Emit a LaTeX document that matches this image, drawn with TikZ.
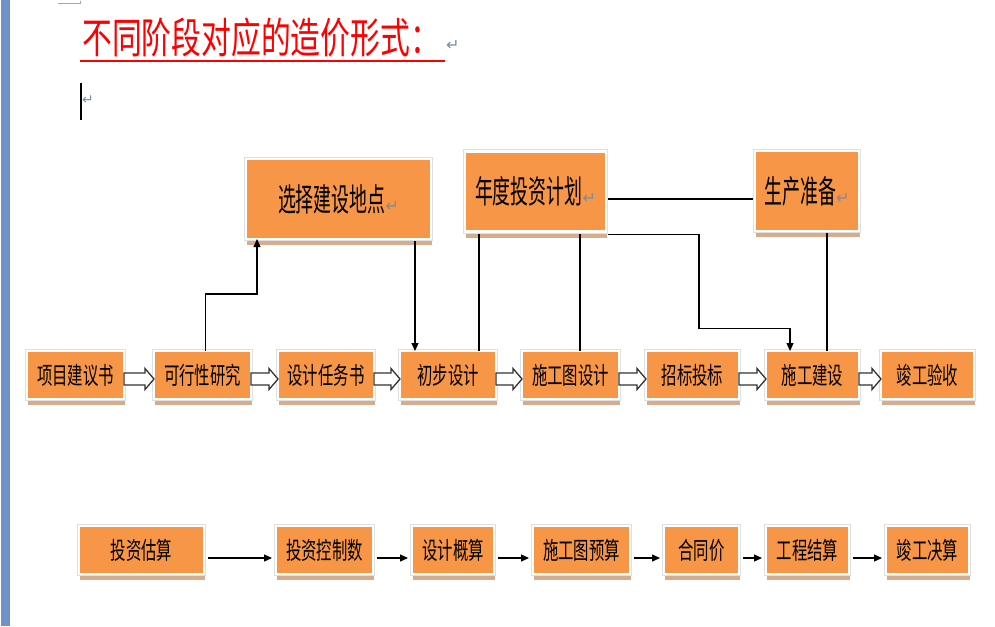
\documentclass[tikz,border=0pt]{standalone}
\usepackage{fontspec}
\usepackage{graphicx}
\setmainfont{Noto Sans CJK SC}
\newfontfamily\markfont{DejaVu Sans}
\usetikzlibrary{calc,shadows,arrows.meta}
\definecolor{boxorange}{RGB}{247,150,70}
\definecolor{boxshade}{RGB}{214,172,140}
\definecolor{barblue}{RGB}{111,146,200}
\definecolor{markgray}{RGB}{125,140,165}
\newcommand{\narrow}[2]{\scalebox{#1}[1]{#2}}
\newcommand{\pmark}[1]{{\markfont\color{markgray}\fontsize{#1}{#1}\selectfont ↵}}
\newcommand{\flowarrow}[2]{%
  \draw[hollow] let \p1=(#1.east), \p2=(#2.west) in
    (\x1,\y1+2pt) -- (\x2-9pt,\y1+2pt) -- (\x2-9pt,\y1+6.5pt) -- (\x2,\y1-4pt)
    -- (\x2-9pt,\y1-14.5pt) -- (\x2-9pt,\y1-10pt) -- (\x1,\y1-10pt) -- cycle;}

\begin{document}
\begin{tikzpicture}[x=1pt,y=-1pt,
  stage/.style={fill=boxorange,draw=white,line width=2.5pt,inner sep=0pt,outer sep=0pt,
    minimum height=48pt,
    drop shadow={shadow xshift=1pt,shadow yshift=-6pt,fill=boxshade,opacity=1},
    preaction={draw=black!12,line width=4.5pt},
    font=\fontsize{24}{24}\selectfont},
  bigstage/.style={stage,minimum height=80pt,font=\fontsize{32}{32}\selectfont},
  hollow/.style={fill=white,draw=black!80,line width=1.3pt,line join=miter},
  link/.style={draw=black,line width=1.2pt},
  linkarrow/.style={link,-{Triangle[length=8pt,width=7pt]}}]
\def\small{0.64}
\def\big{0.56}

\useasboundingbox (0,0) rectangle (995,626);
\fill[barblue] (1,0) rectangle (9,626);
\draw[black!45,line width=1pt] (9.5,0) -- (9.5,626);
\draw[black!35,line width=1pt] (58,4) -- (80,4) -- (80,1);

\node[anchor=base west,text=red,inner sep=0pt,font=\fontsize{42}{42}\selectfont] (title) at (82,54)
  {\narrow{0.71}{不同阶段对应的造价形式：}};
\draw[red,line width=1.6pt] ($(title.base west)+(-2,7)$) -- ($(title.base east)+(5,7)$);
\node[anchor=west,inner sep=0pt] (titlemark) at (446,45) {\pmark{16}};
\draw[black,line width=2.2pt] (81,83) -- (81,120);
\node[anchor=west,inner sep=0pt] (cursormark) at (82,100) {\pmark{14}};

\node[bigstage,minimum width=185pt] (site) at (338.5,199) {\narrow{\big}{选择建设地点}\pmark{16}};
\node[bigstage,minimum width=141pt] (plan) at (535.5,191.5) {\narrow{\big}{年度投资计划}\pmark{16}};
\node[bigstage,minimum width=104pt] (prep) at (807,191) {\narrow{\big}{生产准备}\pmark{16}};

\node[stage,minimum width=97pt] (p1) at (75.5,375) {\narrow{\small}{项目建议书}};
\node[stage,minimum width=97pt] (p2) at (202.5,375) {\narrow{\small}{可行性研究}};
\node[stage,minimum width=96pt] (p3) at (326,375) {\narrow{\small}{设计任务书}};
\node[stage,minimum width=96pt] (p4) at (448,375) {\narrow{\small}{初步设计}};
\node[stage,minimum width=97pt] (p5) at (570.5,375) {\narrow{\small}{施工图设计}};
\node[stage,minimum width=93pt] (p6) at (692.5,375) {\narrow{\small}{招标投标}};
\node[stage,minimum width=93pt] (p7) at (812.5,375) {\narrow{\small}{施工建设}};
\node[stage,minimum width=93pt] (p8) at (927.5,375) {\narrow{\small}{竣工验收}};

\node[stage,minimum width=125pt] (c1) at (141.5,550) {\narrow{\small}{投资估算}};
\node[stage,minimum width=97pt] (c2) at (324.5,550) {\narrow{\small}{投资控制数}};
\node[stage,minimum width=82pt] (c3) at (453,550) {\narrow{\small}{设计概算}};
\node[stage,minimum width=97pt] (c4) at (581.5,550) {\narrow{\small}{施工图预算}};
\node[stage,minimum width=75pt] (c5) at (701.5,550) {\narrow{\small}{合同价}};
\node[stage,minimum width=83pt] (c6) at (807.5,550) {\narrow{\small}{工程结算}};
\node[stage,minimum width=83pt] (c7) at (927.5,550) {\narrow{\small}{竣工决算}};

\foreach \a/\b in {p1/p2,p2/p3,p3/p4,p4/p5,p5/p6,p6/p7,p7/p8}
  {\flowarrow{\a}{\b}}
\foreach \a/\b in {c1/c2,c2/c3,c3/c4,c4/c5,c5/c6,c6/c7}
  \draw[linkarrow] ($(\a.east)+(4,8)$) -- ($(\b.west)+(-4,8)$);

\draw[linkarrow] ($(p2.north)+(3,0)$) -- ++(0,-57) -| ($(site.south west)+(11,0)$);
\draw[linkarrow] ($(site.south)+(76.5,2)$) -- ($(p4.north)+(-33,0)$);
\draw[link] ($(plan.south)+(-56.5,2)$) -- ($(p4.north)+(31,0)$);
\draw[link] ($(plan.south)+(44.5,2)$) -- ($(p5.north)+(9.5,0)$);
\draw[link] ($(plan.east)+(2,7.5)$) -- ($(prep.west)+(-2,8)$);
\draw[linkarrow] ($(plan.south east)+(2,3)$) -- ++(91,0) -- ++(0,94) -| ($(p7.north)+(-22.5,0)$);
\draw[link] ($(prep.south)+(20,2)$) -- ($(p7.north)+(14.5,0)$);
\end{tikzpicture}
\end{document}
